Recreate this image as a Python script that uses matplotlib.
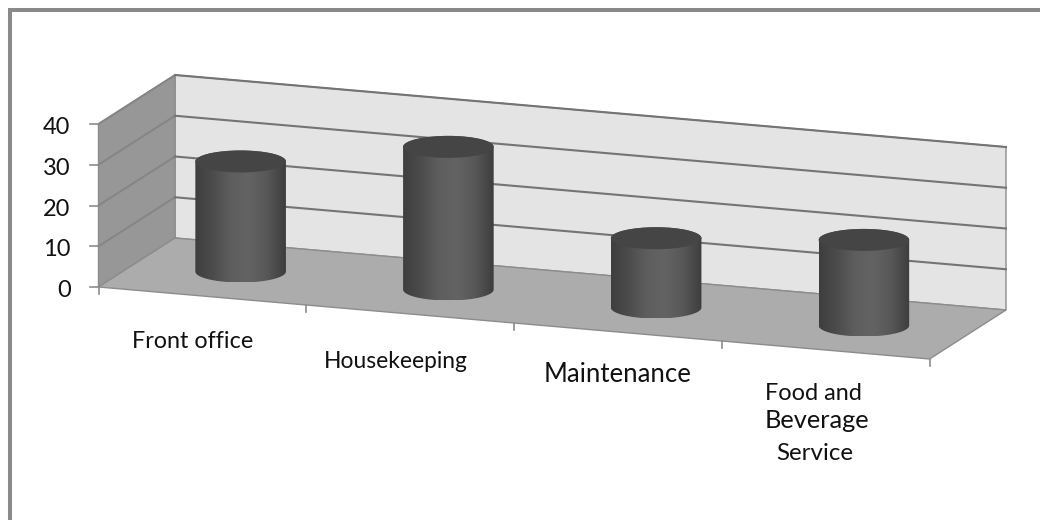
import numpy as np
import matplotlib
matplotlib.use("Agg")
import matplotlib.pyplot as plt
from matplotlib.patches import Polygon, Ellipse, PathPatch
from matplotlib.path import Path
from matplotlib.colors import LinearSegmentedColormap

# chart values
categories = ["Front office", "Housekeeping", "Maintenance", "Food and\nBeverage\nService"]
values = [27, 35, 17, 21]
value_ticks = [0, 10, 20, 30, 40]

plt.rcParams['font.family'] = ['Lato', 'DejaVu Sans']

# fake 3d box: origin is the front left floor corner, in pixels
origin = np.array([98.5, 287.0])
cat_step = np.array([207.75, 18.0])
depth_vec = np.array([76.5, -49.0])
px_per_unit = 163.0 / 40


def project(cat, val, depth=0.0):
    return origin + cat * cat_step + depth * depth_vec + np.array([0, -val * px_per_unit])


fig = plt.figure(figsize=(10.4, 5.2), dpi=100)
ax = fig.add_axes([0, 0, 1, 1])
ax.set_xlim(0, 1040)
ax.set_ylim(520, 0)
ax.axis('off')

# outer frame, only top and left show up
ax.plot([10, 10], [520, 10], color='#8a8a8a', lw=2.9, solid_capstyle='butt', zorder=1)
ax.plot([8, 1040], [10, 10], color='#8a8a8a', lw=2.9, solid_capstyle='butt', zorder=1)

n = len(categories)
top = value_ticks[-1]
edge = '#8c8c8c'

# back wall, side wall and floor
ax.add_patch(Polygon([project(0, 0, 1), project(n, 0, 1), project(n, top, 1), project(0, top, 1)],
                     fc='#e4e4e4', ec=edge, lw=1.0, zorder=2))
ax.add_patch(Polygon([project(0, 0, 0), project(0, 0, 1), project(0, top, 1), project(0, top, 0)],
                     fc='#979797', ec=edge, lw=1.0, zorder=2))
ax.add_patch(Polygon([project(0, 0, 0), project(n, 0, 0), project(n, 0, 1), project(0, 0, 1)],
                     fc='#acacac', ec=edge, lw=1.0, zorder=3))

# gridlines run along the side wall and then the back wall
for v in value_ticks[1:]:
    side = np.array([project(0, v, 0), project(0, v, 1)])
    back = np.array([project(0, v, 1), project(n, v, 1)])
    ax.plot(side[:, 0], side[:, 1], color='#858585', lw=1.4, zorder=3)
    ax.plot(back[:, 0], back[:, 1], color='#747474', lw=1.5, zorder=3)

# axis ticks and tick labels
for v in value_ticks:
    p = project(0, v, 0)
    ax.plot([p[0] - 9, p[0]], [p[1], p[1]], color=edge, lw=1.2, zorder=3)
    ax.text(p[0] - 28, p[1] + 3.5, str(v), ha='right', va='center',
            fontsize=17, color='#111111', zorder=5)
for i in range(n + 1):
    p = project(i, 0, 0)
    ax.plot([p[0], p[0]], [p[1], p[1] + 7], color=edge, lw=1.2, zorder=3)

# category labels sit by hand below the axis, one line at a time
label_xy = [[(193, 341)], [(396, 362)], [(618, 375)], [(813, 393), (817, 421), (815, 453)]]
label_size = [[16.8], [16.4], [18.5], [16.9, 18.3, 17.4]]
for name, spots, sizes in zip(categories, label_xy, label_size):
    for line, (lx, ly), fs in zip(name.split("\n"), spots, sizes):
        ax.text(lx, ly, line, ha='center', va='center', fontsize=fs, color='#111111', zorder=5)

# cylinders
shade = LinearSegmentedColormap.from_list('cyl', ['#3e3e3e', '#4c4c4c', '#5e5e5e', '#636363', '#575757', '#3d3d3d'])
grad = np.linspace(0, 1, 256).reshape(1, -1)
half_w = 0.218 * cat_step[0]
half_h = 11.0

for i, v in enumerate(values):
    base = project(i + 0.5, 0, 0.5)
    tip = project(i + 0.5, v, 0.5)
    cx = base[0]
    # side of the cylinder: two straight edges closed by half ellipses
    t = np.linspace(0, np.pi, 60)
    lower = np.column_stack([cx + half_w * np.cos(t), base[1] + half_h * np.sin(t)])
    upper = np.column_stack([cx - half_w * np.cos(t), tip[1] - half_h * np.sin(t)])
    body = np.vstack([lower, upper, lower[:1]])
    clip = PathPatch(Path(body), transform=ax.transData, fc='none', ec='none')
    ax.add_patch(clip)
    im = ax.imshow(grad, cmap=shade, aspect='auto', zorder=6, interpolation='bilinear',
                   extent=[cx - half_w, cx + half_w, base[1] + half_h, tip[1] - half_h])
    im.set_clip_path(clip)
    ax.add_patch(Ellipse(tip, 2 * half_w, 2 * half_h, fc='#454545', ec='none', zorder=7))

ax.set_xlim(0, 1040)
ax.set_ylim(520, 0)

plt.savefig("out.png", dpi=100)
